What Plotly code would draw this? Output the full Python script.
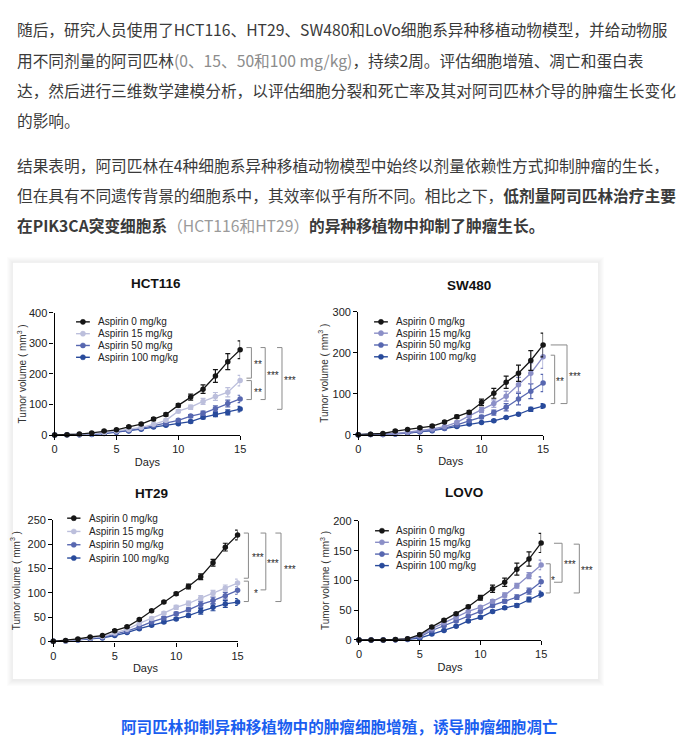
import plotly.graph_objects as go

W, H = 686, 750

# ---------------- data ----------------
days = list(range(16))
dose_labels = ["Aspirin 0 mg/kg", "Aspirin 15 mg/kg", "Aspirin 50 mg/kg", "Aspirin 100 mg/kg"]
x_ticks = [0, 5, 10, 15]
y_title = "Tumor volume ( mm<sup>3</sup> )"
x_title = "Days"
panel_names = ["HCT116", "SW480", "HT29", "LOVO"]
panel_ymax = [400, 300, 250, 200]
panel_dtick = [100, 100, 50, 50]

# HCT116
hct116_0 = [0, 1, 3, 7, 13, 17, 27, 36, 52, 67, 97, 124, 150, 193, 240, 279]
hct116_0_err = [0, 0.5, 1, 1.5, 2, 2.5, 3, 4, 5, 5, 6, 10, 14, 21, 26, 29]
hct116_15 = [0, 1, 2, 4, 8, 13, 18, 25, 35, 48, 78, 91, 110, 126, 140, 178]
hct116_15_err = [0, 0.5, 1, 1, 1.5, 2, 2, 3, 3, 4, 5, 7, 10, 13, 15, 17]
hct116_50 = [0, 0.5, 1, 3, 6, 10, 15, 22, 30, 38, 48, 62, 71, 86, 103, 118]
hct116_50_err = [0, 0.3, 0.5, 1, 1, 1.5, 2, 2, 3, 3, 4, 5, 7, 9, 11, 12]
hct116_100 = [0, 0.5, 1, 2, 5, 9, 13, 19, 26, 32, 37, 44, 58, 67, 74, 85]
hct116_100_err = [0, 0.3, 0.5, 1, 1, 1.5, 2, 2, 2, 3, 3, 4, 5, 7, 8, 9]
hct116_sig = ["**", "**", "***", "***"]
hct116_sig_top = [286, 178, 286, 286]
hct116_sig_bot = [186, 116, 116, 84]

# SW480
sw480_0 = [0, 1, 3, 9, 13, 17, 21, 31, 44, 55, 79, 101, 128, 150, 181, 219]
sw480_0_err = [0, 0.5, 1, 2, 2, 2.5, 3, 3, 4, 4, 8, 12, 15, 20, 24, 29]
sw480_15 = [0, 0.5, 1, 3, 6, 10, 14, 20, 30, 46, 60, 76, 94, 122, 150, 190]
sw480_15_err = [0, 0.3, 0.5, 1, 1, 1.5, 2, 2, 3, 4, 6, 9, 12, 18, 25, 28]
sw480_50 = [0, 0.3, 0.5, 2, 4, 7, 11, 16, 24, 34, 43, 54, 67, 87, 106, 126]
sw480_50_err = [0, 0.2, 0.5, 1, 1, 1, 1.5, 2, 2, 3, 4, 6, 9, 14, 18, 21]
sw480_100 = [0, 0.3, 0.5, 2, 4, 7, 10, 15, 20, 26, 30, 34, 42, 50, 62, 70]
sw480_100_err = [0, 0.2, 0.3, 0.5, 1, 1, 1, 1.5, 2, 2, 2, 2, 2, 3, 5, 6]
sw480_sig = ["**", "***"]
sw480_sig_top = [194, 219]
sw480_sig_bot = [76, 76]

# HT29
ht29_0 = [0, 2, 5, 9, 12, 22, 30, 45, 63, 81, 98, 113, 133, 162, 194, 219]
ht29_0_err = [0, 0.5, 1, 1, 1.5, 2, 2, 2, 2, 2, 3, 5, 6, 7, 8, 10]
ht29_15 = [0, 1, 4, 7, 10, 17, 25, 37, 47, 58, 70, 78, 89, 99, 110, 120]
ht29_15_err = [0, 0.5, 1, 1, 1, 1.5, 2, 2, 3, 3, 4, 5, 5, 6, 6, 8]
ht29_50 = [0, 1, 3, 6, 8, 15, 21, 30, 40, 48, 57, 65, 76, 84, 94, 105]
ht29_50_err = [0, 0.3, 0.5, 1, 1, 1.5, 2, 2, 2, 3, 3, 4, 6, 7, 7, 8]
ht29_100 = [0, 1, 3, 5, 7, 12, 18, 26, 33, 40, 46, 53, 62, 70, 77, 81]
ht29_100_err = [0, 0.3, 0.5, 1, 1, 1, 1.5, 2, 2, 2, 2, 3, 6, 7, 7, 7]
ht29_sig = ["***", "*", "***", "***"]
ht29_sig_top = [223, 124, 223, 223]
ht29_sig_bot = [130, 82, 106, 82]

# LOVO
lovo_0 = [0, 0, 0, 1, 2, 9, 22, 33, 44, 56, 71, 86, 97, 119, 136, 163]
lovo_0_err = [0, 0, 0, 0.5, 1, 2, 2, 2, 2, 2, 4, 6, 7, 10, 12, 16]
lovo_15 = [0, 0, 0, 0.5, 2, 7, 19, 29, 38, 48, 55, 65, 75, 91, 108, 126]
lovo_15_err = [0, 0, 0, 0.3, 0.5, 1, 1.5, 2, 2, 2, 2, 3, 4, 4, 5, 8]
lovo_50 = [0, 0, 0, 0.3, 1.5, 5, 16, 24, 32, 40, 48, 58, 65, 72, 82, 98]
lovo_50_err = [0, 0, 0, 0.2, 0.5, 1, 1, 1.5, 2, 2, 2, 3, 3, 4, 5, 8]
lovo_100 = [0, 0, 0, 0.2, 1, 3, 10, 16, 23, 32, 38, 48, 54, 58, 68, 77]
lovo_100_err = [0, 0, 0, 0.2, 0.3, 1, 1, 1, 1.5, 2, 2, 2, 2, 3, 4, 5]
lovo_sig = ["*", "***", "***"]
lovo_sig_top = [128, 162.5, 161]
lovo_sig_bot = [79, 97, 79]

# text content
para1 = [
    "随后，研究人员使用了HCT116、HT29、SW480和LoVo细胞系异种移植动物模型，并给动物服",
    "用不同剂量的阿司匹林<span style='color:#8c8c8c'>(0、15、50和100 mg/kg)</span>，持续2周。评估细胞增殖、凋亡和蛋白表",
    "达，然后进行三维数学建模分析，以评估细胞分裂和死亡率及其对阿司匹林介导的肿瘤生长变化",
    "的影响。",
]
para2 = [
    "结果表明，阿司匹林在4种细胞系异种移植动物模型中始终以剂量依赖性方式抑制肿瘤的生长，",
    "但在具有不同遗传背景的细胞系中，其效率似乎有所不同。相比之下，<b>低剂量阿司匹林治疗主要</b>",
    "<b>在PIK3CA突变细胞系</b><span style='color:#9a9a9a'>（HCT116和HT29）</span><b>的异种移植物中抑制了肿瘤生长。</b>",
]
caption = "<b>阿司匹林抑制异种移植物中的肿瘤细胞增殖，诱导肿瘤细胞凋亡</b>"

panel_means = [
    [hct116_0, hct116_15, hct116_50, hct116_100],
    [sw480_0, sw480_15, sw480_50, sw480_100],
    [ht29_0, ht29_15, ht29_50, ht29_100],
    [lovo_0, lovo_15, lovo_50, lovo_100],
]
panel_errs = [
    [hct116_0_err, hct116_15_err, hct116_50_err, hct116_100_err],
    [sw480_0_err, sw480_15_err, sw480_50_err, sw480_100_err],
    [ht29_0_err, ht29_15_err, ht29_50_err, ht29_100_err],
    [lovo_0_err, lovo_15_err, lovo_50_err, lovo_100_err],
]
panel_sig = [
    (hct116_sig, hct116_sig_top, hct116_sig_bot),
    (sw480_sig, sw480_sig_top, sw480_sig_bot),
    (ht29_sig, ht29_sig_top, ht29_sig_bot),
    (lovo_sig, lovo_sig_top, lovo_sig_bot),
]

# ---------------- styles / positions (pixels) ----------------
FONT = "Liberation Sans, Arial, sans-serif"
CJK = "Noto Sans CJK SC, sans-serif"
pale = ["#161616", "#bcbfdc", "#5767b0", "#284a9b"]
mid = ["#161616", "#8b8fc7", "#5767b0", "#284a9b"]
styles = [
    dict(box=(52.3, 240.3, 436.0, 311.7), title=(155, 282), colors=pale,
         legend=(74, 88, 94, [321, 333, 345, 357]), ystand=0,
         brackets=[(6.4, 6.4, 11.4, 17.7), (6.4, 6.4, 11.4, 17.7),
                   (20.7, 20.7, 25.4, 33.0), (37.4, 37.4, 42.4, 51.0)]),
    dict(box=(360.0, 547.3, 435.7, 310.7), title=(471.7, 284), colors=mid,
         legend=(376, 390, 396, [321, 332.5, 344.5, 356.5]), ystand=2,
         brackets=[(7.7, 7.7, 11.7, 17.0), (7.7, 17.7, 24.2, 32.7)]),
    dict(box=(51.0, 237.7, 645.7, 522.3), title=(150, 495), colors=pale,
         legend=(65, 78.5, 85, [520.5, 534, 547.5, 561]), ystand=5,
         brackets=[(6.3, 6.3, 11.0, 20.8), (6.3, 6.3, 11.0, 19.0),
                   (23.3, 23.3, 28.6, 36.3), (38.3, 38.3, 44.0, 53.3)]),
    dict(box=(360.7, 545.3, 644.3, 523.3), title=(467, 494), colors=mid,
         legend=(377, 391, 396, [533.3, 545, 557, 568.7]), ystand=1,
         brackets=[(4.7, 4.7, 9.2, 12.2), (13.0, 13.0, 21.2, 29.7),
                   (33.0, 33.0, 38.7, 46.4)]),
]


def fx(p):
    return p / W


def fy(p):
    return 1 - p / H


fig = go.Figure()
shapes = []
annotations = []

# card with soft shadow
cx0, cx1, cy0, cy1 = 10, 603, 261, 684
for i in range(6, 0, -1):
    shapes.append(dict(type="rect", xref="paper", yref="paper", layer="below",
                       x0=fx(cx0 - i), x1=fx(cx1 + i), y0=fy(cy1 + i + 1), y1=fy(cy0 - i),
                       line=dict(width=0), fillcolor="rgba(0,0,0,0.013)"))
shapes.append(dict(type="rect", xref="paper", yref="paper", layer="below",
                   x0=fx(cx0), x1=fx(cx1), y0=fy(cy1), y1=fy(cy0),
                   line=dict(width=0), fillcolor="white"))

layout_axes = {}
for k in range(4):
    st = styles[k]
    n = k + 1
    sfx = "" if n == 1 else str(n)
    xa, ya = "x" + sfx, "y" + sfx
    px0, px1, py0, py1 = st["box"]
    width_px = px1 - px0
    ymax = panel_ymax[k]

    # data traces (draw highest dose first so control is on top)
    for j in [3, 2, 1, 0]:
        c = st["colors"][j]
        fig.add_trace(go.Scatter(
            x=days, y=panel_means[k][j], name=dose_labels[j], mode="lines+markers",
            xaxis=xa, yaxis=ya, cliponaxis=False, showlegend=False,
            line=dict(color=c, width=1.3),
            marker=dict(color=c, size=5.5, symbol="circle"),
            error_y=dict(type="data", array=panel_errs[k][j], visible=True,
                         color=c, thickness=1.2, width=2.5),
        ))

    axis_common = dict(showline=True, linecolor="black", linewidth=1.3, ticks="outside",
                       ticklen=4, tickwidth=1.3, tickcolor="black", showgrid=False,
                       zeroline=False, tickfont=dict(family=FONT, size=11, color="#222"),
                       fixedrange=True)
    layout_axes["xaxis" + sfx] = dict(
        axis_common, domain=[fx(px0), fx(px1)], range=[0, 15], anchor=ya,
        tickvals=x_ticks,
        title=dict(text=x_title, standoff=3, font=dict(family=FONT, size=11, color="#222")))
    layout_axes["yaxis" + sfx] = dict(
        axis_common, domain=[fy(py0), fy(py1)], range=[0, ymax], anchor=xa,
        tick0=0, dtick=panel_dtick[k],
        title=dict(text=y_title, standoff=st["ystand"], font=dict(family=FONT, size=10, color="#333")))

    # panel title
    tx, ty = st["title"]
    annotations.append(dict(text="<b>" + panel_names[k] + "</b>", xref="paper", yref="paper",
                            x=fx(tx), y=fy(ty), showarrow=False, xanchor="center", yanchor="middle",
                            font=dict(family=FONT, size=13.5, color="#111")))

    # custom compact legend
    lx0, lx1, ltx, rows = st["legend"]
    for j in range(4):
        c = st["colors"][j]
        ry = rows[j]
        shapes.append(dict(type="line", xref="paper", yref="paper", x0=fx(lx0), x1=fx(lx1),
                           y0=fy(ry), y1=fy(ry), line=dict(color=c, width=1.4)))
        mx = (lx0 + lx1) / 2
        r = 2.6
        shapes.append(dict(type="circle", xref="paper", yref="paper",
                           x0=fx(mx - r), x1=fx(mx + r), y0=fy(ry + r), y1=fy(ry - r),
                           fillcolor=c, line=dict(color=c, width=0.5)))
        annotations.append(dict(text=dose_labels[j], xref="paper", yref="paper", x=fx(ltx), y=fy(ry),
                                showarrow=False, xanchor="left", yanchor="middle",
                                font=dict(family=FONT, size=10, color="#222")))

    # significance brackets
    labels, tops, bots = panel_sig[k]
    xd, yd = xa + " domain", ya + " domain"
    for b in range(len(labels)):
        t_dx, b_dx, v_dx, s_dx = st["brackets"][b]
        yt, yb = tops[b] / ymax, bots[b] / ymax
        xt, xb, xv = 1 + t_dx / width_px, 1 + b_dx / width_px, 1 + v_dx / width_px
        shapes.append(dict(type="path", xref=xd, yref=yd,
                           path=f"M {xt},{yt} L {xv},{yt} L {xv},{yb} L {xb},{yb}",
                           line=dict(color="#8a8a8a", width=1)))
        annotations.append(dict(text=labels[b], xref=xd, yref=yd, x=1 + s_dx / width_px,
                                y=(tops[b] + bots[b]) / 2 / ymax, showarrow=False,
                                xanchor="center", yanchor="middle", yshift=-2,
                                font=dict(family=FONT, size=10, color="#2a2a2a")))

# article text
p1_y = [24, 55, 86, 116]
p2_y = [162, 193, 223]
for txt, yy in zip(para1 + para2, p1_y + p2_y):
    annotations.append(dict(text=txt, xref="paper", yref="paper", x=fx(12), y=fy(yy),
                            showarrow=False, xanchor="left", yanchor="middle",
                            font=dict(family=CJK, size=15.7, color="#3a3a3a")))
annotations.append(dict(text=caption, xref="paper", yref="paper", x=fx(341), y=fy(732),
                        showarrow=False, xanchor="center", yanchor="middle",
                        font=dict(family=CJK, size=15.6, color="#1a5ef0")))

fig.update_layout(
    width=W, height=H, margin=dict(l=0, r=0, t=0, b=0),
    paper_bgcolor="white", plot_bgcolor="rgba(0,0,0,0)",
    showlegend=False, shapes=shapes, annotations=annotations,
    font=dict(family=FONT),
    **layout_axes,
)

fig.write_html("out.html", config={"displayModeBar": False},
               post_script="document.body.style.margin='0px';document.body.style.overflow='hidden';")
